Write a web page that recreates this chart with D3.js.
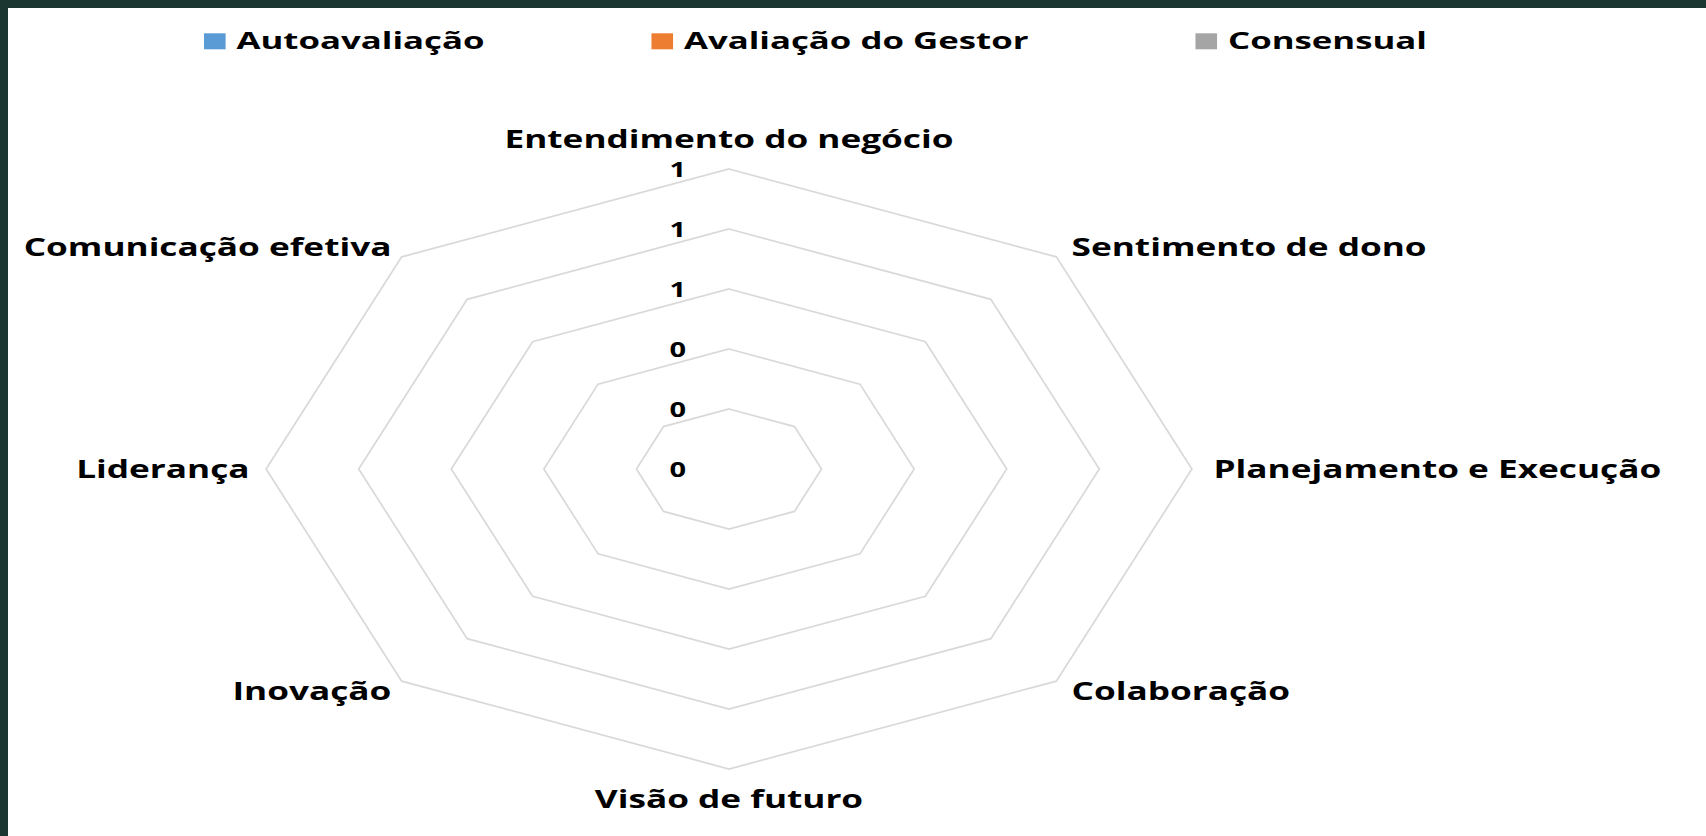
<!DOCTYPE html>
<html lang="pt">
<meta charset="UTF-8">

<head>
    <title>Avaliação de competências</title>
    <script src="https://d3js.org/d3.v7.min.js"></script>
    <style>
        body { margin: 0; background: #ffffff; }
        svg { display: block; }
        text { font-family: "Open Sans", sans-serif; font-weight: 700; fill: #000000; }
    </style>
</head>

<body>
    <div id="chart"></div>

    <script>
        // eixos do radar (sentido horário a partir do topo)
        var competencias = ["Entendimento do negócio", "Sentimento de dono", "Planejamento e Execução",
            "Colaboração", "Visão de futuro", "Inovação", "Liderança", "Comunicação efetiva"];
        var series = ["Autoavaliação", "Avaliação do Gestor", "Consensual"];
        // nenhuma nota preenchida na planilha
        var autoavaliacao = [0, 0, 0, 0, 0, 0, 0, 0];
        var avaliacaoGestor = [0, 0, 0, 0, 0, 0, 0, 0];
        var consensual = [0, 0, 0, 0, 0, 0, 0, 0];
        var ticks = [0, 0.2, 0.4, 0.6, 0.8, 1];
        var cores = ["#5b9bd5", "#ed7d31", "#a5a5a5"];

        var width = 1706,
            height = 836;
        var cx = 729, cy = 469, R = 300;
        var sx = 1.543;     // o gráfico original está esticado na horizontal
        var tsx = 1.38;     // esticamento do texto dos eixos
        var lsx = 1.45;     // esticamento do texto da legenda

        var svg = d3.select("#chart").append("svg")
            .attr("width", width)
            .attr("height", height);

        svg.append("rect").attr("width", width).attr("height", height).attr("fill", "#ffffff");
        // moldura verde escura (topo e esquerda)
        svg.append("rect").attr("width", width).attr("height", 8).attr("fill", "#1b3530");
        svg.append("rect").attr("width", 8).attr("height", height).attr("fill", "#1b3530");

        var r = d3.scaleLinear().domain([0, 1]).range([0, R]);
        var angle = d3.scaleLinear().domain([0, competencias.length]).range([0, 2 * Math.PI]);

        function ponto(i, v) {
            var a = angle(i);
            return [cx + sx * r(v) * Math.sin(a), cy - r(v) * Math.cos(a)];
        }

        var line = d3.line().curve(d3.curveLinearClosed);

        // anéis da grade
        svg.append("g").selectAll("path")
            .data(ticks.slice(1))
            .join("path")
            .attr("d", t => line(competencias.map((c, i) => ponto(i, t))))
            .attr("fill", "none")
            .attr("stroke", "#d9d9d9")
            .attr("stroke-width", 1.75);

        // rótulos do eixo de valores
        var fmt = d3.format(".0f");
        svg.append("g").selectAll("text")
            .data(ticks)
            .join("text")
            .attr("transform", t => "translate(" + (cx - 43) + "," + (cy - r(t) + 7.5) + ") scale(" + tsx + ",1)")
            .attr("text-anchor", "end")
            .style("font-size", "21px")
            .text(t => fmt(t));

        // séries
        var dados = [autoavaliacao, avaliacaoGestor, consensual];
        svg.append("g").selectAll("path")
            .data(dados)
            .join("path")
            .attr("d", d => line(d.map((v, i) => ponto(i, v))))
            .attr("fill", "none")
            .attr("stroke", (d, k) => cores[k])
            .attr("stroke-width", 2.25);

        // nomes dos eixos
        var pad = 14;
        svg.append("g").selectAll("text")
            .data(competencias)
            .join("text")
            .attr("transform", function (d, i) {
                var a = angle(i), s = Math.sin(a), c = Math.cos(a);
                var x = cx + (R + pad) * sx * s;
                var y = cy - (R + pad) * c;
                if (Math.abs(c) > 0.99) y -= c * 16;
                if (s < -0.01) x += 5;
                return "translate(" + x + "," + (y + 9) + ") scale(" + tsx + ",1)";
            })
            .attr("text-anchor", function (d, i) {
                var s = Math.sin(angle(i));
                if (Math.abs(s) < 0.01) return "middle";
                return s > 0 ? "start" : "end";
            })
            .style("font-size", "25.5px")
            .text(d => d);

        // legenda
        var legenda = svg.append("g");
        var lx = 204;
        series.forEach(function (nome, k) {
            legenda.append("rect")
                .attr("x", lx).attr("y", 33.3)
                .attr("width", 21.6).attr("height", 16)
                .attr("fill", cores[k]);
            var t = legenda.append("text")
                .attr("transform", "translate(" + (lx + 32.5) + ",49.3) scale(" + lsx + ",1)")
                .style("font-size", "24px")
                .text(nome);
            lx += 32.5 + t.node().getComputedTextLength() * lsx + 167;
        });
    </script>
</body>

</html>
